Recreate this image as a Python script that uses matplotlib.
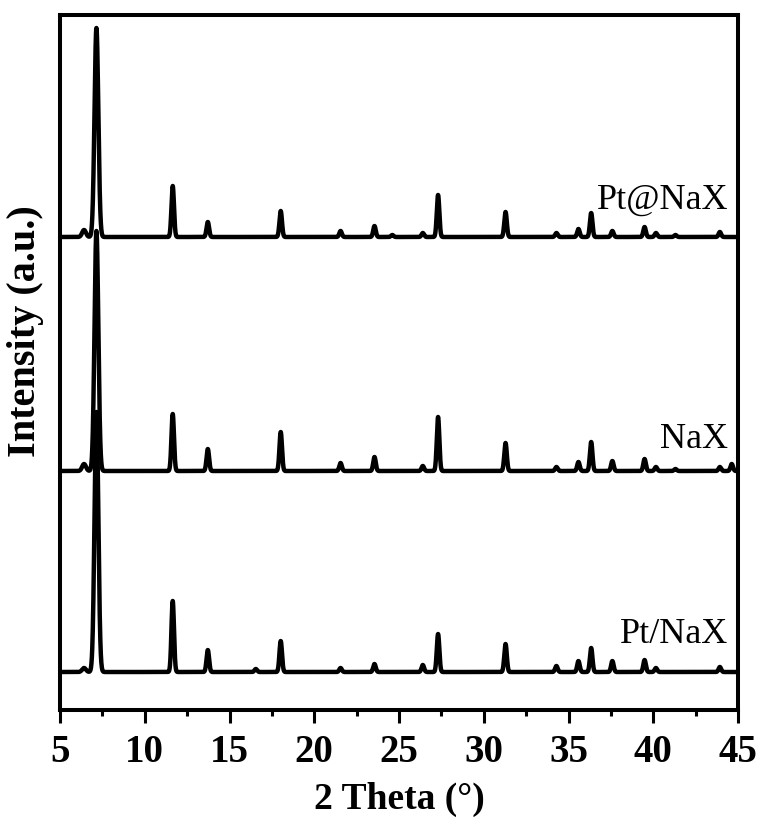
import numpy as np
import matplotlib
matplotlib.use("Agg")
import matplotlib.pyplot as plt
from matplotlib.ticker import MultipleLocator

plt.rcParams['font.family'] = ['Liberation Serif', 'DejaVu Serif']

# peak positions (2 theta, deg) and heights above baseline for each sample
pos_ptat = [6.42, 7.15, 11.65, 13.72, 18.02, 21.55, 23.55, 24.6, 26.4, 27.3, 31.28, 34.28, 35.58, 36.33, 37.58, 39.48, 40.15, 41.3, 43.92]
h_ptat = [7, 209, 51, 15, 26, 6, 11, 2, 4, 42, 25, 4, 8, 24, 6, 10, 4, 2, 5]

pos_nax = [6.42, 7.15, 11.65, 13.72, 18.02, 21.55, 23.55, 26.4, 27.3, 31.28, 34.28, 35.58, 36.33, 37.58, 39.48, 40.15, 41.3, 43.92, 44.62]
h_nax = [7, 240, 57, 22, 39, 8, 14, 5, 54, 28, 4, 9, 29, 10, 12, 4, 2, 4, 7]

pos_ptnax = [6.42, 7.15, 11.65, 13.72, 16.55, 18.02, 21.55, 23.55, 26.4, 27.3, 31.28, 34.28, 35.58, 36.33, 37.58, 39.48, 40.15, 43.92]
h_ptnax = [4, 260, 71, 22, 3, 31, 4, 8, 7, 38, 28, 6, 11, 24, 11, 12, 4, 5]

# vertical offsets of the stacked patterns
base_ptnax = 38
base_nax = 239
base_ptat = 473

x = np.linspace(5, 45, 8001)


def pattern(pos, h, base, w=0.075):
    y = np.full_like(x, float(base))
    for p, a in zip(pos, h):
        s = w * 1.5 if p < 8 else w
        y += a * np.exp(-0.5 * ((x - p) / s) ** 2)
    return y


fig, ax = plt.subplots(figsize=(7.61, 8.23), dpi=100)
fig.subplots_adjust(left=0.0788, right=0.970, top=0.9818, bottom=0.1373)

for pos, h, base in [(pos_ptnax, h_ptnax, base_ptnax),
                     (pos_nax, h_nax, base_nax),
                     (pos_ptat, h_ptat, base_ptat)]:
    ax.plot(x, pattern(pos, h, base), color="black", linewidth=3.2,
            solid_joinstyle="round")

ax.text(44.4, 510, "Pt@NaX", fontsize=26, ha="right", va="center")
ax.text(44.4, 270, "NaX", fontsize=26, ha="right", va="center")
ax.text(44.4, 75, "Pt/NaX", fontsize=26, ha="right", va="center")

ax.set_xlim(5, 45)
ax.set_ylim(0, 695)
ax.xaxis.set_major_locator(MultipleLocator(5))
ax.xaxis.set_minor_locator(MultipleLocator(2.5))
ax.set_yticks([])
ax.tick_params(axis="x", which="major", direction="out", length=9,
               width=2.2, pad=8, labelsize=28)
ax.tick_params(axis="x", which="minor", direction="out", length=4.5, width=2.2)
for lab in ax.get_xticklabels():
    lab.set_fontweight("bold")
for sp in ax.spines.values():
    sp.set_linewidth(2.9)

ax.set_xlabel("2 Theta (°)", fontsize=27, fontweight="bold", labelpad=8)
fig.text(0.033, 0.598, "Intensity (a.u.)", fontsize=29, fontweight="bold",
         rotation=90, ha="center", va="center")

fig.savefig("out.png", dpi=100)
